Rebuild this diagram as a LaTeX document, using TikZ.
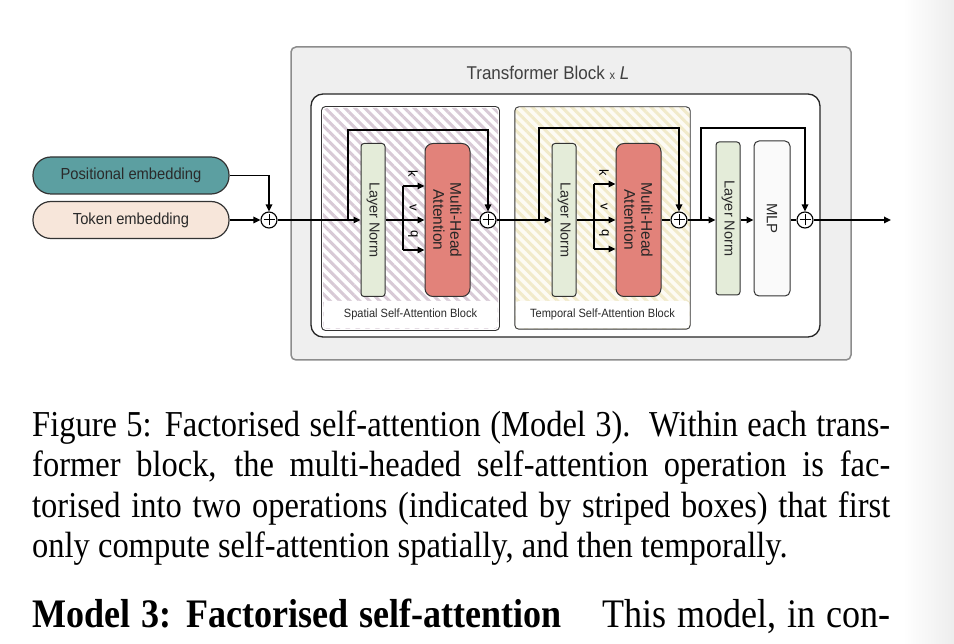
\documentclass[tikz,border=0pt]{standalone}
\usepackage{fontspec}
\setmainfont{Liberation Serif}
\newfontfamily\capfont[FakeStretch=0.89]{Liberation Serif}
\newfontfamily\dfont[FakeStretch=0.92]{Liberation Sans}
\newfontfamily\rfont{Liberation Sans}
\usetikzlibrary{arrows.meta,patterns.meta}
\definecolor{outerfill}{HTML}{EFEFEF}
\definecolor{outerdraw}{HTML}{8C8C8C}
\definecolor{lngreen}{HTML}{E4ECD9}
\definecolor{mhared}{HTML}{E2827A}
\definecolor{posteal}{HTML}{5C9FA1}
\definecolor{tokpeach}{HTML}{F7E6DA}
\definecolor{spstripe}{HTML}{D8CAD6}
\definecolor{tpstripe}{HTML}{F1EACA}
\definecolor{tpback}{HTML}{FDFBF4}
\definecolor{txtcol}{HTML}{2A2A2A}
\definecolor{edgecol}{HTML}{333333}
\begin{document}
\begin{tikzpicture}[x=1pt,y=-1pt,
  conn/.style={line width=1.6pt},
  arr/.style={line width=1.6pt,-{Triangle[length=7pt,width=6.5pt]}},
  lnbox/.style={draw=edgecol,line width=1pt,fill=lngreen,rounded corners=3pt,minimum width=24pt,minimum height=153pt,inner sep=0pt,
     label={[rotate=-90,font=\rfont\fontsize{14.5}{16}\selectfont,text=txtcol]center:Layer Norm}},
  mhabox/.style={draw=edgecol,line width=1pt,fill=mhared,rounded corners=8pt,minimum width=45pt,minimum height=153pt,inner sep=0pt,
     label={[rotate=-90,align=center,font=\rfont\fontsize{15.5}{17}\selectfont,text=black!85]center:Multi-Head\\Attention}},
  mlpbox/.style={draw=edgecol,line width=1pt,fill=black!2,rounded corners=5pt,minimum width=36pt,minimum height=155pt,inner sep=0pt,
     label={[rotate=-90,font=\rfont\fontsize{15}{17}\selectfont,text=txtcol]center:MLP}},
  plusop/.style={circle,draw,line width=1.1pt,fill=white,minimum size=16pt,inner sep=0pt,
     path picture={\draw[line width=1pt] ([xshift=-5.5pt]path picture bounding box.center) -- ([xshift=5.5pt]path picture bounding box.center);
                   \draw[line width=1pt] ([yshift=-5.5pt]path picture bounding box.center) -- ([yshift=5.5pt]path picture bounding box.center);}},
  emb/.style={draw=edgecol,line width=1.2pt,rounded corners=18pt,minimum width=196pt,minimum height=37pt,inner sep=0pt,font=\dfont\fontsize{16}{18}\selectfont,text=txtcol},
  kvq/.style={rotate=-90,font=\rfont\fontsize{13}{14}\selectfont,inner sep=0pt},
  blk/.style={draw=edgecol,line width=0.9pt,rounded corners=4pt},
  blklabel/.style={font=\dfont\fontsize{12}{13}\selectfont,text=txtcol,inner sep=0pt},
  capline/.style={anchor=base west,inner sep=0pt,font=\capfont\fontsize{36.5}{40}\selectfont},
]
\useasboundingbox (0,0) rectangle (954,644);
\shade[left color=white,right color=black!7] (903,0) rectangle (954,644);

% outer block
\node[draw=outerdraw,fill=outerfill,line width=1.5pt,rounded corners=5pt,minimum width=560pt,minimum height=313pt,inner sep=0pt] (outer) at (571,203.5) {};
\node[font=\dfont\fontsize{18.5}{20}\selectfont,text=black!75] (title) at (548,73) {Transformer Block {\fontsize{12}{13}\selectfont x} \textit{L}};
\node[draw=black!85,fill=white,line width=1.3pt,rounded corners=12pt,minimum width=509pt,minimum height=243pt,inner sep=0pt] (inner) at (565.5,215.5) {};

% spatial block
\node[minimum width=175pt,minimum height=221pt,inner sep=0pt,rounded corners=4pt,preaction={fill=white},
      pattern={Lines[angle=-45,distance=7pt,line width=3pt]},pattern color=spstripe] (sp) at (410.5,218.5) {};
\fill[white,rounded corners=3.5pt] (323.5,301) rectangle (497.5,328.5);
\draw[blk] (sp.north west) rectangle (sp.south east);
\node[blklabel] (splab) at (410.5,314.5) {Spatial Self-Attention Block};

% temporal block
\node[minimum width=175pt,minimum height=222pt,inner sep=0pt,rounded corners=4pt,preaction={fill=tpback},
      pattern={Lines[angle=-45,distance=7pt,line width=3pt]},pattern color=tpstripe] (tp) at (602.5,218) {};
\fill[white,rounded corners=3.5pt] (515.5,301) rectangle (689.5,328.5);
\draw[blk] (tp.north west) rectangle (tp.south east);
\node[blklabel] (tplab) at (602.5,314) {Temporal Self-Attention Block};

% embeddings
\node[emb,fill=posteal] (pos) at (131,175.5) {Positional embedding};
\node[emb,fill=tokpeach] (tok) at (131,220) {Token embedding};
\node[plusop] (p0) at (269,220) {};

% boxes
\node[lnbox] (ln1) at (373,220) {};
\node[mhabox] (mha1) at (447.5,220) {};
\node[plusop] (p1) at (488,220) {};
\node[lnbox] (ln2) at (564,220) {};
\node[mhabox] (mha2) at (638.5,220) {};
\node[plusop] (p2) at (679,220) {};
\node[lnbox] (ln3) at (728,218.5) {};
\node[mlpbox] (mlp) at (772,218.5) {};
\node[plusop] (p3) at (805,220) {};

% coordinates
\coordinate (s1) at (348,220);
\coordinate (s1top) at (348,130);
\coordinate (k1) at (403,186);
\coordinate (q1) at (403,250);
\coordinate (s2) at (539,220);
\coordinate (s2top) at (539,128);
\coordinate (k2) at (594,184);
\coordinate (q2) at (594,249);
\coordinate (s3) at (701,220);
\coordinate (s3top) at (701,128);
\coordinate (out) at (891,220);

% connectors
\draw[arr] (pos.east) -| (p0.north);
\draw[arr] (tok.east) -- (p0.west);
\draw[arr] (p0.east) -- (p0.east -| ln1.west);
\draw[arr] (s1) -- (s1top) -| (p1.north);
\draw[arr] (ln1.east |- p0) -- (mha1.west |- p0);
\draw[conn] (k1) -- (q1);
\draw[arr] (k1) -- (k1 -| mha1.west);
\draw[arr] (q1) -- (q1 -| mha1.west);
\draw[conn] (mha1.east |- p1) -- (p1.west);

\draw[arr] (p1.east) -- (p1.east -| ln2.west);
\draw[arr] (s2) -- (s2top) -| (p2.north);
\draw[arr] (ln2.east |- p1) -- (mha2.west |- p1);
\draw[conn] (k2) -- (q2);
\draw[arr] (k2) -- (k2 -| mha2.west);
\draw[arr] (q2) -- (q2 -| mha2.west);
\draw[conn] (mha2.east |- p2) -- (p2.west);

\draw[arr] (p2.east) -- (p2.east -| ln3.west);
\draw[arr] (s3) -- (s3top) -| (p3.north);
\draw[arr] (ln3.east |- p3) -- (mlp.west |- p3);
\draw[conn] (mlp.east |- p3) -- (p3.west);
\draw[arr] (p3.east) -- (out);

% k v q labels
\node[kvq] (lk1) at (413,174) {k};
\node[kvq] (lv1) at (413,208) {v};
\node[kvq] (lq1) at (413,234) {q};
\node[kvq] (lk2) at (604,173) {k};
\node[kvq] (lv2) at (604,207) {v};
\node[kvq] (lq2) at (604,233) {q};

% caption
\node[capline] (cap1) at (32,437) {\makebox[858pt][s]{Figure 5: Factorised self-attention (Model 3).\ \ Within each trans-}};
\node[capline] (cap2) at (32,477) {\makebox[858pt][s]{former block, the multi-headed self-attention operation is fac-}};
\node[capline] (cap3) at (32,517) {\makebox[858pt][s]{torised into two operations (indicated by striped boxes) that first}};
\node[capline] (cap4) at (32,557) {only compute self-attention spatially, and then temporally.};
\node[anchor=base west,inner sep=0pt,font=\capfont\fontsize{40.5}{44}\selectfont] (body) at (32,627) {\makebox[858pt][s]{\textbf{Model 3: Factorised self-attention}\hspace{1em}This model, in con-}};
\end{tikzpicture}
\end{document}
